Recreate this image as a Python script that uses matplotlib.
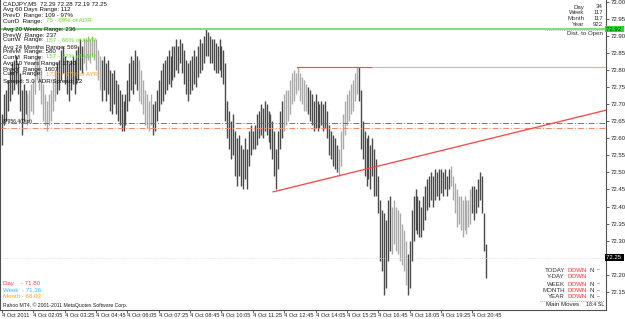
import numpy as np
import matplotlib
matplotlib.use("Agg")
import matplotlib.pyplot as plt
import matplotlib.transforms as mtransforms

plt.rcParams['font.family'] = ['Liberation Sans', 'DejaVu Sans']

# M5 bars, 4 Oct 2011 from 00:45 (high, low)
highs = [
    72.67, 72.73, 72.74, 72.77, 72.80, 72.82, 72.83, 72.84, 72.82, 72.79, 72.74, 72.76, 72.74, 72.73, 72.74, 72.76,
    72.77, 72.83, 72.87, 72.84, 72.80, 72.76, 72.73, 72.71, 72.73, 72.74, 72.77, 72.80, 72.82, 72.83, 72.86, 72.87,
    72.84, 72.83, 72.82, 72.83, 72.84, 72.83, 72.86, 72.87, 72.89, 72.87, 72.89, 72.89, 72.90, 72.89, 72.90, 72.89,
    72.89, 72.86, 72.84, 72.83, 72.84, 72.82, 72.83, 72.80, 72.79, 72.80, 72.77, 72.76, 72.74, 72.73, 72.71, 72.73, 72.77,
    72.82, 72.84, 72.83, 72.86, 72.84, 72.83, 72.80, 72.77, 72.74, 72.73, 72.71, 72.73, 72.70, 72.71, 72.74, 72.77,
    72.80, 72.82, 72.83, 72.84, 72.86, 72.84, 72.87, 72.87, 72.89, 72.87, 72.89, 72.88, 72.86, 72.83, 72.82, 72.83,
    72.84, 72.86, 72.84, 72.87, 72.89, 72.88, 72.90, 72.92, 72.91, 72.90, 72.89, 72.89, 72.88, 72.87, 72.89, 72.87, 72.86,
    72.82, 72.71, 72.68, 72.65, 72.67, 72.62, 72.60, 72.61, 72.58, 72.57, 72.60, 72.57, 72.62, 72.64, 72.62, 72.64,
    72.67, 72.68, 72.70, 72.69, 72.71, 72.70, 72.68, 72.67, 72.65, 72.62, 72.57, 72.62, 72.68, 72.71, 72.73, 72.74,
    72.74, 72.77, 72.79, 72.80, 72.79, 72.81, 72.79, 72.78, 72.77, 72.76, 72.75, 72.74, 72.73, 72.71, 72.73, 72.71, 72.70,
    72.71, 72.70, 72.71, 72.68, 72.64, 72.62, 72.61, 72.60, 72.58, 72.57, 72.62, 72.67, 72.71, 72.73, 72.74, 72.76,
    72.77, 72.79, 72.81, 72.81, 72.74, 72.65, 72.62, 72.60, 72.61, 72.58, 72.60, 72.57, 72.54, 72.49, 72.42, 72.39,
    72.38, 72.36, 72.42, 72.43, 72.40, 72.42, 72.40, 72.39, 72.38, 72.35, 72.33, 72.30, 72.26, 72.30, 72.39, 72.43, 72.45,
    72.43, 72.42, 72.40, 72.43, 72.46, 72.48, 72.49, 72.50, 72.49, 72.51, 72.50, 72.51, 72.51, 72.50, 72.51, 72.49,
    72.51, 72.52, 72.49, 72.47, 72.45, 72.43, 72.43, 72.42, 72.43, 72.42, 72.42, 72.45, 72.46, 72.46, 72.45, 72.48,
    72.50, 72.49, 72.38, 72.29,
]
lows = [
    72.58, 72.64, 72.65, 72.68, 72.71, 72.73, 72.74, 72.76, 72.73, 72.68, 72.61, 72.65, 72.67, 72.64, 72.65, 72.68,
    72.67, 72.73, 72.77, 72.74, 72.70, 72.65, 72.64, 72.62, 72.64, 72.65, 72.68, 72.71, 72.73, 72.74, 72.77, 72.79,
    72.76, 72.73, 72.71, 72.74, 72.76, 72.73, 72.76, 72.77, 72.80, 72.79, 72.82, 72.80, 72.83, 72.82, 72.84, 72.83,
    72.80, 72.77, 72.74, 72.71, 72.74, 72.71, 72.73, 72.68, 72.67, 72.70, 72.67, 72.65, 72.64, 72.62, 72.62, 72.64, 72.68,
    72.71, 72.74, 72.73, 72.76, 72.74, 72.71, 72.70, 72.67, 72.64, 72.63, 72.62, 72.64, 72.61, 72.62, 72.65, 72.68,
    72.70, 72.71, 72.73, 72.74, 72.76, 72.75, 72.77, 72.78, 72.80, 72.79, 72.82, 72.79, 72.76, 72.73, 72.71, 72.73,
    72.74, 72.76, 72.75, 72.78, 72.79, 72.80, 72.82, 72.84, 72.84, 72.82, 72.82, 72.80, 72.79, 72.79, 72.80, 72.78, 72.76,
    72.65, 72.60, 72.57, 72.54, 72.55, 72.49, 72.46, 72.49, 72.46, 72.45, 72.48, 72.45, 72.52, 72.55, 72.57, 72.57,
    72.58, 72.60, 72.61, 72.60, 72.62, 72.61, 72.59, 72.57, 72.54, 72.49, 72.45, 72.51, 72.57, 72.60, 72.62, 72.64,
    72.65, 72.67, 72.70, 72.71, 72.73, 72.74, 72.71, 72.70, 72.68, 72.68, 72.67, 72.65, 72.64, 72.62, 72.63, 72.62, 72.63,
    72.64, 72.62, 72.63, 72.60, 72.55, 72.54, 72.52, 72.51, 72.50, 72.49, 72.52, 72.57, 72.61, 72.64, 72.65, 72.67,
    72.68, 72.71, 72.73, 72.71, 72.57, 72.54, 72.49, 72.46, 72.48, 72.45, 72.49, 72.43, 72.43, 72.38, 72.24, 72.21,
    72.14, 72.16, 72.24, 72.27, 72.26, 72.29, 72.27, 72.26, 72.24, 72.23, 72.21, 72.17, 72.14, 72.16, 72.24, 72.30, 72.33,
    72.32, 72.31, 72.31, 72.33, 72.36, 72.39, 72.40, 72.42, 72.40, 72.42, 72.43, 72.42, 72.44, 72.43, 72.45, 72.43,
    72.45, 72.46, 72.42, 72.38, 72.34, 72.35, 72.33, 72.31, 72.33, 72.32, 72.34, 72.35, 72.38, 72.36, 72.38, 72.40,
    72.42, 72.38, 72.27, 72.19,
]
# bar ranges drawn in silver
light_ranges = [(13, 27), (42, 50), (70, 76), (144, 155), (172, 181), (199, 206), (229, 239)]

time_labels = ["4 Oct 2011", "4 Oct 02:05", "4 Oct 03:25", "4 Oct 04:45", "4 Oct 06:05",
               "4 Oct 07:25", "4 Oct 08:45", "4 Oct 10:05", "4 Oct 11:25", "4 Oct 12:45",
               "4 Oct 14:05", "4 Oct 15:25", "4 Oct 16:45", "4 Oct 18:05", "4 Oct 19:25",
               "4 Oct 20:45"]

day_high = 72.92
pivot_green = 72.645
pivot_orange = 72.63
bid = 72.25
resist = 72.81
trend_a = (138.3, 72.443)
trend_b = (308.7, 72.683)

W, H = 625, 319
fig = plt.figure(figsize=(W / 100, H / 100), dpi=100)
ax = fig.add_axes([0, 9 / H, 606 / W, 310 / H])

n = len(highs)
idx = np.arange(n)
cols = ['#4a4a4a'] * n
for a, b in light_ranges:
    for i in range(a, b + 1):
        cols[i] = '#ababab'
ax.vlines(idx, lows, highs, colors=cols, lw=1.0)

ax.axhline(day_high, color='#80e080', lw=1.5)
ax.axhline(pivot_green, color='#3c9a3c', lw=0.7, ls=(0, (6, 2, 1, 2)))
ax.axhline(pivot_orange, color='#f08a6a', lw=0.7, ls=(0, (6, 2, 1, 2)))
ax.axhline(bid, color='#e8d4e4', lw=0.6, ls=':')
ax.plot([150.5, 189], [resist, resist], color='#ff5050', lw=0.9)
ax.plot([189, 310], [resist, resist], color='#f4a4a4', lw=0.8)
ax.plot([trend_a[0], trend_b[0]], [trend_a[1], trend_b[1]], color='#ff4040', lw=0.9)

ax.set_xlim(-1.02, 308.2)
ax.set_ylim(72.097, 73.005)

ax.yaxis.tick_right()
yt = [round(v, 2) for v in np.arange(72.15, 73.001, 0.05) if abs(v - bid) > 0.01]
ax.set_yticks(yt)
ax.set_yticklabels(["%.2f" % v for v in yt])
ax.tick_params(axis='y', length=2, width=0.5, labelsize=4.3, pad=1.5, colors='#202020')
ax.set_xticks(np.arange(len(time_labels)) * 16)
ax.set_xticklabels(time_labels, ha='left')
ax.tick_params(axis='x', length=2, width=0.5, labelsize=4.1, pad=0.5, colors='#202020')
ax.spines['top'].set_visible(False)
for s in ['left', 'right', 'bottom']:
    ax.spines[s].set_color('#505050')
    ax.spines[s].set_linewidth(0.8)

tr = mtransforms.blended_transform_factory(ax.transAxes, ax.transData)
ax.text(1.0, day_high, "72.92 ", transform=tr, fontsize=4.3, va='center', ha='left',
        color='#103010', bbox=dict(boxstyle='square,pad=0.15', fc='#22dd22', ec='none'), clip_on=False)
ax.text(1.0, bid, "72.25 ", transform=tr, fontsize=4.3, va='center', ha='left',
        color='white', bbox=dict(boxstyle='square,pad=0.15', fc='black', ec='none'), clip_on=False)


def txt(x, y, s, color='#101010', ha='left', size=4.4):
    fig.text(x / W, 1 - y / H, s, color=color, ha=ha, va='center', fontsize=size)


green = '#66dd22'
orange = '#ffa020'
txt(3, 4, "CADJPY,M5  72.29 72.28 72.19 72.25")
txt(3, 10, "Avg 60 Days Range: 112")
txt(3, 16, "PrevD  Range: 109 - 97%")
txt(3, 21, "CurrD  Range:")
txt(46, 21, "75 - 69% of ADR", green)
txt(3, 30, "Avg 20 Weeks Range: 236")
txt(3, 35, "PrevW  Range: 237")
txt(3, 40, "CurrW  Range:")
txt(46, 40, "157 - 66% of AWR", green)
txt(3, 47, "Avg 24 Months Range: 569")
txt(3, 52, "PrevM  Range: 580")
txt(3, 57, "CurrM  Range:")
txt(46, 57, "157 - 27% of AMR", green)
txt(3, 64, "Avg 10 Years Range: 1790")
txt(3, 69, "PrevY  Range: 1607")
txt(3, 74, "CurrY  Range:")
txt(46, 74, "1737 - 97% of AYR", orange)
txt(3, 81, "Spread: 5.0  ADR/Spread: 22")
txt(3, 122, "87956.4(Dist)", size=3.6)

for y, lab, val in [(7, "Day", "34"), (13, "Week", "117"), (19, "Month", "117"), (25, "Year", "922")]:
    txt(584, y, lab, '#303030', 'right')
    txt(603, y, val, '#303030', 'right')
fig.add_artist(plt.Line2D([545 / W, 604 / W], [1 - 30 / H, 1 - 30 / H], color='#909090', lw=0.5, ls=':'))
txt(603, 34, "Dist. to Open", '#303030', 'right')

red = '#ff3030'
for y, lab, nn in [(270, "TODAY", True), (277, "Y-DAY", False), (284, "WEEK", True),
                   (291, "MONTH", True), (297, "YEAR", True)]:
    txt(565, y, lab, '#303030', 'right')
    txt(567, y, "DOWN", red)
    if nn:
        txt(589, y, "N", '#303030')
        txt(597, y, "--", '#303030')
fig.add_artist(plt.Line2D([540 / W, 604 / W], [1 - 301 / H, 1 - 301 / H], color='#707070', lw=0.5, ls=':'))
txt(579, 305, "Main Moves", '#202020', 'right')
txt(604, 305, "18:4 SL", '#202020', 'right', size=3.8)

txt(3, 283, "Day    - 71.80", '#ff4040')
txt(3, 290, "Week  - 71.36", '#33bbff')
txt(3, 297, "Month - 68.03", orange)
txt(3, 305, "Rahoo MT4, \u00a9 2001-2011 MetaQuotes Software Corp.", '#202020', size=3.7)

fig.savefig("out.png", dpi=100, facecolor='white')
